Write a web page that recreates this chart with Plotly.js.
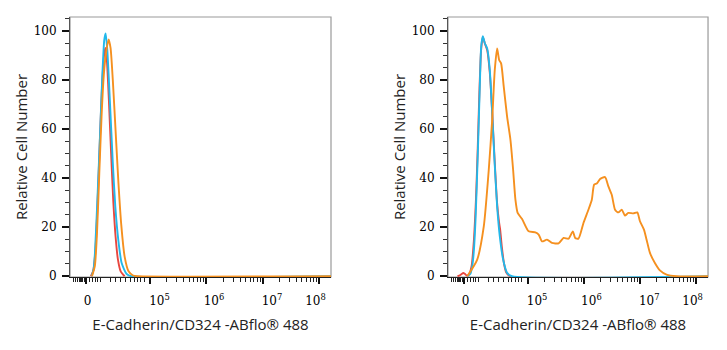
<!DOCTYPE html>
<html>
<head>
<meta charset="utf-8">
<script src="https://cdn.plot.ly/plotly-3.0.1.min.js"></script>
<style>html,body{margin:0;padding:0;background:#fff;}#chart{width:727px;height:350px;}</style>
</head>
<body>
<div id="chart"></div>
<script>
// x values are in display (logicle-like) units: 10^n sits at n
// ---- left panel ----
const leftRedX    = [3.95, 3.99, 4.03, 4.07, 4.11, 4.15, 4.185, 4.21, 4.235, 4.27, 4.31, 4.35, 4.39, 4.43, 4.48, 4.55];
const leftRedY    = [0, 2, 10, 30, 55, 78, 90, 93, 88, 72, 50, 30, 16, 7, 2, 0];
const leftCyanX   = [3.964, 4.0, 4.023, 4.064, 4.112, 4.153, 4.188, 4.213, 4.242, 4.29, 4.337, 4.384, 4.437, 4.497, 4.586, 4.67, 8.215];
const leftCyanY   = [0, 3, 9.5, 29.8, 56.9, 81.3, 96.2, 98.9, 92.2, 70.5, 47.4, 28.5, 14.9, 5.4, 0.9, 0, 0];
const leftOrangeX = [3.97, 4.02, 4.06, 4.1, 4.14, 4.18, 4.22, 4.265, 4.30, 4.34, 4.39, 4.44, 4.49, 4.55, 4.62, 4.70, 4.78, 8.215];
const leftOrangeY = [0, 4, 18, 42, 65, 82, 91, 96.5, 93, 80, 59, 38, 21, 8, 2, 0.3, 0, 0];
// ---- right panel ----
const rightRedX    = [3.75, 3.80, 3.85, 3.88, 3.92, 3.96, 4.0, 4.04, 4.08, 4.11, 4.14, 4.17, 4.2, 4.235, 4.28, 4.325, 4.37, 4.41, 4.455, 4.49, 4.51, 4.54, 4.58, 4.62, 4.67, 4.72];
const rightRedY    = [0, 0.5, 1.3, 1.0, 0.2, 1, 4, 14, 32, 52, 75, 92, 97.5, 95, 92, 83, 66, 48, 30, 22, 19, 12, 5, 1.5, 0.2, 0];
const rightCyanX   = [3.93, 3.98, 4.012, 4.04, 4.071, 4.112, 4.147, 4.172, 4.201, 4.236, 4.279, 4.325, 4.368, 4.409, 4.456, 4.503, 4.563, 4.634, 4.72, 8.215];
const rightCyanY   = [0, 1, 4.1, 10, 23, 50.2, 77.2, 93.5, 97.8, 94.9, 92.8, 84, 66.4, 47.4, 28.5, 16.3, 6.8, 1.4, 0, 0];
const rightOrangeX = [3.924, 4.101, 4.218, 4.307, 4.368, 4.414, 4.456, 4.492, 4.527, 4.574, 4.634, 4.693, 4.741, 4.782, 4.822, 4.901, 5.018, 5.137, 5.196, 5.256, 5.345, 5.433, 5.551, 5.64, 5.728, 5.806, 5.847, 5.906, 5.995, 6.083, 6.144, 6.185, 6.233, 6.291, 6.38, 6.439, 6.499, 6.558, 6.617, 6.677, 6.735, 6.794, 6.883, 6.954, 7.002, 7.073, 7.12, 7.18, 7.268, 7.357, 7.476, 7.654, 8.215];
const rightOrangeY = [0, 6.8, 20.3, 43.4, 63.7, 84, 92.8, 88.1, 86.7, 77.2, 65, 55.6, 43.4, 31.2, 25.8, 23.3, 18.3, 17.9, 17.0, 14.2, 14.9, 13.6, 13.4, 15.6, 15.3, 18.3, 15.6, 15.3, 21.7, 27.1, 31.2, 37.3, 37.8, 39.6, 40.4, 36.6, 33.2, 27.1, 26.0, 27.1, 24.7, 25.8, 25.6, 26.0, 22.4, 19.0, 14.9, 9.5, 5.4, 2.4, 0.7, 0, 0];

// axis ticks
const xMajorTicks = [3.86, 5, 6, 7, 8];
const xTickLabels = ['0', '10<sup>5</sup>', '10<sup>6</sup>', '10<sup>7</sup>', '10<sup>8</sup>'];
const xLabelPos   = [3.893, 5.169, 6.137, 7.167, 7.94];
const xNearZeroTicks = [3.638, 3.673, 3.716, 3.745, 3.774, 3.79, 3.81, 3.83, 3.85, 3.87, 3.922, 3.982, 4.028, 4.071, 4.124, 4.307, 4.396, 4.485, 4.574, 4.663, 4.721, 4.782, 4.840, 4.899];
const yTickVals = [0, 20, 40, 60, 80, 100];
const xTitle = 'E-Cadherin/CD324 -ABflo® 488';
const yTitle = 'Relative Cell Number';

const RED = '#e8473f', CYAN = '#22b8ea', ORANGE = '#f5901f';
const X_RANGE = [3.58, 8.215];
const Y_RANGE = [-0.3, 105.6];

const xMinor = xNearZeroTicks.slice();
[5, 6, 7].forEach(n => { for (let k = 2; k <= 9; k++) xMinor.push(n + Math.log10(k)); });

function line(x, y, color, xa, ya) {
  return {x: x, y: y, xaxis: xa, yaxis: ya, type: 'scatter', mode: 'lines',
          line: {color: color, width: 1.9, shape: 'spline', smoothing: 0.6}, hoverinfo: 'skip', showlegend: false};
}

const traces = [
  line(leftRedX, leftRedY, RED, 'x', 'y'),
  line(leftCyanX, leftCyanY, CYAN, 'x', 'y'),
  line(leftOrangeX, leftOrangeY, ORANGE, 'x', 'y'),
  line(rightRedX, rightRedY, RED, 'x2', 'y2'),
  line(rightCyanX, rightCyanY, CYAN, 'x2', 'y2'),
  line(rightOrangeX, rightOrangeY, ORANGE, 'x2', 'y2'),
  {x: [], y: [], xaxis: 'x3', yaxis: 'y', type: 'scatter', showlegend: false},
  {x: [], y: [], xaxis: 'x4', yaxis: 'y2', type: 'scatter', showlegend: false}
];

const tickFont = {family: 'DejaVu Serif', size: 12, color: '#000'};
const titleFont = {family: 'Open Sans', size: 15, color: '#222'};

function tickAxis(domain) {
  return {domain: domain, range: X_RANGE, type: 'linear', showgrid: false, zeroline: false,
    showline: true, linecolor: '#222', linewidth: 1, layer: 'below traces',
    tickmode: 'array', tickvals: xMajorTicks, showticklabels: false,
    ticks: 'outside', ticklen: 6, tickwidth: 2, tickcolor: '#111',
    minor: {tickmode: 'array', tickvals: xMinor, ticks: 'outside', ticklen: 4, tickwidth: 1, tickcolor: '#222', showgrid: false},
    fixedrange: true};
}
function labelAxis(over) {
  return {overlaying: over, range: X_RANGE, type: 'linear', showgrid: false, zeroline: false, showline: false,
    tickmode: 'array', tickvals: xLabelPos, ticktext: xTickLabels, ticks: '', tickfont: tickFont,
    ticklabelstandoff: 15, side: 'bottom',
    title: {text: xTitle, font: titleFont, standoff: 12}, fixedrange: true};
}
function yAxis(anchor) {
  return {domain: [0.2086, 0.9514], anchor: anchor, range: Y_RANGE, showgrid: false, zeroline: false,
    showline: true, linecolor: '#555', linewidth: 1, layer: 'below traces',
    tickmode: 'array', tickvals: yTickVals, tickfont: tickFont,
    ticks: 'outside', ticklen: 7, tickwidth: 2, tickcolor: '#111', ticklabelstandoff: 3,
    minor: {dtick: 5, tick0: 0, ticks: 'outside', ticklen: 4, tickwidth: 1, tickcolor: '#333', showgrid: false},
    title: {text: yTitle, font: titleFont, standoff: 2}, fixedrange: true};
}

const layout = {
  width: 727, height: 350,
  margin: {l: 0, r: 0, t: 0, b: 0},
  paper_bgcolor: '#fff', plot_bgcolor: '#fff',
  showlegend: false,
  xaxis: Object.assign(tickAxis([0.0963, 0.4553]), {anchor: 'y'}),
  xaxis2: Object.assign(tickAxis([0.6162, 0.9739]), {anchor: 'y2'}),
  xaxis3: Object.assign(labelAxis('x'), {anchor: 'y'}),
  xaxis4: Object.assign(labelAxis('x2'), {anchor: 'y2'}),
  yaxis: yAxis('x'),
  yaxis2: yAxis('x2'),
  shapes: [
    {type: 'rect', xref: 'x domain', yref: 'y domain', x0: 0, x1: 1, y0: 0, y1: 1, line: {color: '#9a9a9a', width: 1.2}, layer: 'below'},
    {type: 'rect', xref: 'x2 domain', yref: 'y2 domain', x0: 0, x1: 1, y0: 0, y1: 1, line: {color: '#9a9a9a', width: 1.2}, layer: 'below'}
  ]
};

Plotly.newPlot('chart', traces, layout, {staticPlot: true, displayModeBar: false});
</script>
</body>
</html>
